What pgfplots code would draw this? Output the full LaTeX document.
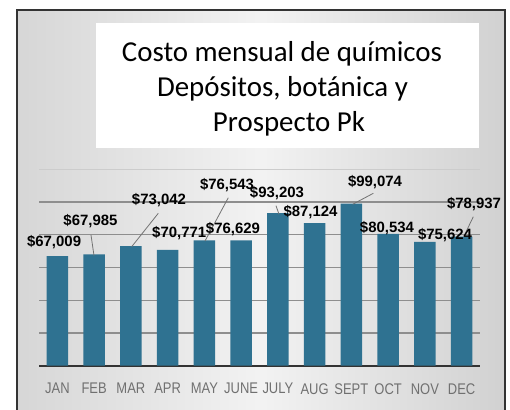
\documentclass[border=0pt]{standalone}
\usepackage{pgfplots}
\pgfplotsset{compat=1.18}
\usepackage{fontspec}
\setmainfont{Liberation Sans}
\newfontfamily\titlefont{Carlito}
\newfontfamily\narrowfont[FakeStretch=0.84]{Liberation Sans}
\definecolor{barblue}{HTML}{2F7291}
\definecolor{gridgray}{HTML}{8E8E8E}
\definecolor{ticklab}{HTML}{707070}
\begin{document}
\begin{tikzpicture}
\useasboundingbox (0bp,0bp) rectangle (510bp,410bp);
\fill[white] (0bp,0bp) rectangle (510bp,410bp);
\shade[left color=gray!32!white, right color=gray!36!white, middle color=gray!10!white] (17bp,-5bp) rectangle (505bp,400bp);
\draw[line width=2.6bp, draw=black!80] (17bp,-5bp) rectangle (505bp,400bp);
\fill[white] (96bp,262bp) rectangle (479bp,387bp);
\node[font=\titlefont\fontsize{29}{35}\selectfont, anchor=base] at (282bp,348.3bp) {Costo mensual de químicos};
\node[font=\titlefont\fontsize{29}{35}\selectfont, anchor=base] at (282.5bp,313.3bp) {Depósitos, botánica y};
\node[font=\titlefont\fontsize{29}{35}\selectfont, anchor=base] at (289bp,278.3bp) {Prospecto Pk};
\begin{axis}[
  at={(39bp,44.3bp)}, anchor=south west,
  scale only axis, width=441bp, height=196.4bp,
  xmin=-0.5, xmax=11.5, ymin=0, ymax=120000,
  axis x line*=bottom, axis y line*=left,
  y axis line style={draw=none},
  x axis line style={line width=2bp, draw=black!80, -},
  xtick={0,...,11},
  xticklabels={JAN,FEB,MAR,APR,MAY,JUNE,JULY,AUG,SEPT,OCT,NOV,DEC},
  xticklabel style={font=\narrowfont\fontsize{15.5}{17}\selectfont, text=ticklab, yshift=-14bp},
  ytick={20000,40000,60000,80000,100000},
  yticklabels={}, scaled y ticks=false,
  extra y ticks={120000}, extra y tick labels={},
  extra y tick style={grid style={line width=1bp, draw=gray!40}},
  major tick length=0pt,
  ymajorgrids, grid style={line width=1.2bp, draw=gridgray},
  clip=false,
]
\addplot[ybar, bar width=21.7bp, fill=barblue, draw=none] coordinates {
(0,67009) (1,67985) (2,73042) (3,70771) (4,76543) (5,76629)
(6,93203) (7,87124) (8,99074) (9,80534) (10,75624) (11,78937)};
\begin{scope}[draw=black!55, line width=0.8bp]
\draw (axis cs:0.915,79860) -- (axis cs:0.997,67210);
\draw (axis cs:2.746,93120) -- (axis cs:2.022,72710);
\draw (axis cs:4.651,102650) -- (axis cs:4.017,76190);
\draw (axis cs:5.949,97760) -- (axis cs:6.031,92500);
\draw (axis cs:8.597,105340) -- (axis cs:8.036,98620);
\draw (axis cs:11.318,91040) -- (axis cs:11.065,79250);
\end{scope}
\begin{scope}[every node/.style={font=\bfseries\fontsize{15}{16}\selectfont, inner sep=0pt}]
\node at (axis cs:-0.09,75760) {\$67,009};
\node at (axis cs:0.901,88410) {\$67,985};
\node at (axis cs:2.765,101060) {\$73,042};
\node at (axis cs:3.315,80770) {\$70,771};
\node at (axis cs:4.616,110100) {\$76,543};
\node at (axis cs:4.779,83650) {\$76,629};
\node at (axis cs:5.976,105520) {\$93,203};
\node at (axis cs:6.888,93910) {\$87,124};
\node at (axis cs:8.643,112420) {\$99,074};
\node at (axis cs:8.969,83950) {\$80,534};
\node at (axis cs:10.548,79550) {\$75,624};
\node at (axis cs:11.337,98800) {\$78,937};
\end{scope}
\end{axis}
\end{tikzpicture}
\end{document}
